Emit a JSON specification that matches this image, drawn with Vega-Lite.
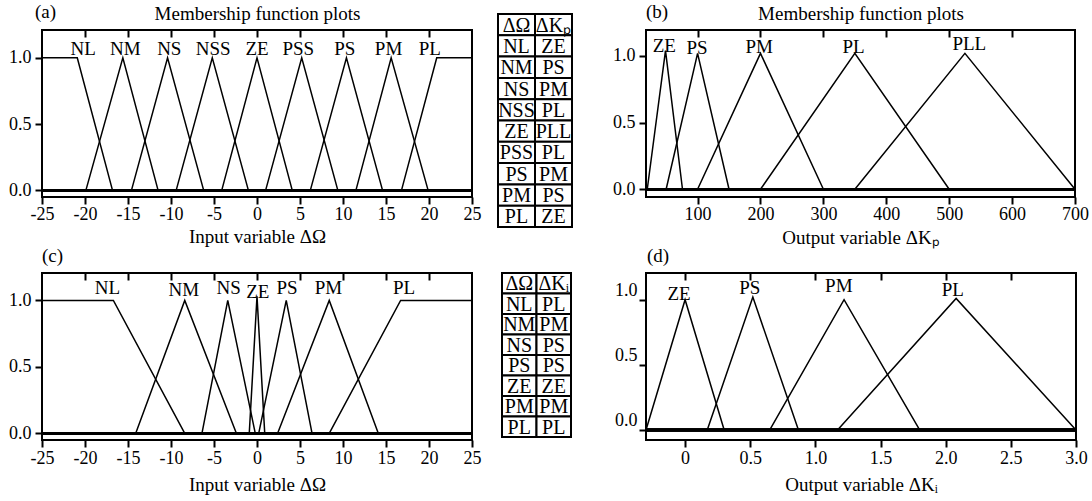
{
  "$schema": "https://vega.github.io/schema/vega-lite/v6.json",
  "padding": {"left": 7, "top": 2, "right": 0, "bottom": 0},
  "background": "white",
  "config": {
    "font": "Liberation Serif",
    "view": {"stroke": "black", "strokeWidth": 2},
    "axis": {
      "labelFont": "Liberation Serif", "labelFontSize": 18, "labelColor": "black",
      "titleFont": "Liberation Serif", "titleFontSize": 19, "titleFontWeight": "normal", "titleColor": "black",
      "tickColor": "black", "tickWidth": 2, "tickSize": 7, "grid": false, "domain": false,
      "labelPadding": 2, "labelFlush": false, "labelOverlap": false
    },
    "axisY": {"labelPadding": 4},
    "title": {"font": "Liberation Serif", "fontSize": 19, "fontWeight": "normal", "color": "black", "anchor": "start", "frame": "group"},
    "text": {"font": "Liberation Serif", "color": "black"},
    "line": {"color": "black", "strokeWidth": 1.5},
    "rule": {"color": "black"}
  },
  "datasets": {
    "mfA": [
      {"mf": "NL", "x": -25, "y": 1}, {"mf": "NL", "x": -20.9, "y": 1}, {"mf": "NL", "x": -16.8, "y": 0},
      {"mf": "NM", "x": -19.9, "y": 0}, {"mf": "NM", "x": -15.6, "y": 1}, {"mf": "NM", "x": -11.5, "y": 0},
      {"mf": "NS", "x": -14.6, "y": 0}, {"mf": "NS", "x": -10.4, "y": 1}, {"mf": "NS", "x": -6.2, "y": 0},
      {"mf": "NSS", "x": -9.4, "y": 0}, {"mf": "NSS", "x": -5.2, "y": 1}, {"mf": "NSS", "x": -1.0, "y": 0},
      {"mf": "ZE", "x": -4.1, "y": 0}, {"mf": "ZE", "x": 0, "y": 1}, {"mf": "ZE", "x": 4.1, "y": 0},
      {"mf": "PSS", "x": 1.0, "y": 0}, {"mf": "PSS", "x": 5.2, "y": 1}, {"mf": "PSS", "x": 9.4, "y": 0},
      {"mf": "PS", "x": 6.2, "y": 0}, {"mf": "PS", "x": 10.4, "y": 1}, {"mf": "PS", "x": 14.6, "y": 0},
      {"mf": "PM", "x": 11.5, "y": 0}, {"mf": "PM", "x": 15.6, "y": 1}, {"mf": "PM", "x": 19.9, "y": 0},
      {"mf": "PL", "x": 16.8, "y": 0}, {"mf": "PL", "x": 20.9, "y": 1}, {"mf": "PL", "x": 25, "y": 1}
    ],
    "labA": [
      {"name": "NL", "x": -20.2, "y": 1.025}, {"name": "NM", "x": -15.3, "y": 1.025},
      {"name": "NS", "x": -10.2, "y": 1.025}, {"name": "NSS", "x": -5.1, "y": 1.025},
      {"name": "ZE", "x": 0, "y": 1.025}, {"name": "PSS", "x": 4.8, "y": 1.025},
      {"name": "PS", "x": 10.2, "y": 1.025}, {"name": "PM", "x": 15.3, "y": 1.025},
      {"name": "PL", "x": 20.1, "y": 1.025}
    ],
    "mfB": [
      {"mf": "ZE", "x": 20, "y": 0}, {"mf": "ZE", "x": 49, "y": 1.04}, {"mf": "ZE", "x": 76, "y": 0},
      {"mf": "PS", "x": 50, "y": 0}, {"mf": "PS", "x": 100, "y": 1.02}, {"mf": "PS", "x": 150, "y": 0},
      {"mf": "PM", "x": 100, "y": 0}, {"mf": "PM", "x": 200, "y": 1.02}, {"mf": "PM", "x": 300, "y": 0},
      {"mf": "PL", "x": 200, "y": 0}, {"mf": "PL", "x": 350, "y": 1.02}, {"mf": "PL", "x": 500, "y": 0},
      {"mf": "PLL", "x": 350, "y": 0}, {"mf": "PLL", "x": 525, "y": 1.02}, {"mf": "PLL", "x": 700, "y": 0}
    ],
    "labB": [
      {"name": "ZE", "x": 47, "y": 1.03}, {"name": "PS", "x": 99, "y": 1.015},
      {"name": "PM", "x": 198, "y": 1.02}, {"name": "PL", "x": 348, "y": 1.025},
      {"name": "PLL", "x": 532, "y": 1.045}
    ],
    "mfC": [
      {"mf": "NL", "x": -25, "y": 1}, {"mf": "NL", "x": -16.7, "y": 1}, {"mf": "NL", "x": -8.4, "y": 0},
      {"mf": "NM", "x": -14.1, "y": 0}, {"mf": "NM", "x": -8.4, "y": 1}, {"mf": "NM", "x": -2.4, "y": 0},
      {"mf": "NS", "x": -6.4, "y": 0}, {"mf": "NS", "x": -3.4, "y": 1}, {"mf": "NS", "x": -0.2, "y": 0},
      {"mf": "ZE", "x": -0.9, "y": 0}, {"mf": "ZE", "x": 0, "y": 1.03}, {"mf": "ZE", "x": 0.9, "y": 0},
      {"mf": "PS", "x": 0.2, "y": 0}, {"mf": "PS", "x": 3.4, "y": 1}, {"mf": "PS", "x": 6.4, "y": 0},
      {"mf": "PM", "x": 2.4, "y": 0}, {"mf": "PM", "x": 8.4, "y": 1}, {"mf": "PM", "x": 14.1, "y": 0},
      {"mf": "PL", "x": 8.4, "y": 0}, {"mf": "PL", "x": 16.7, "y": 1}, {"mf": "PL", "x": 25, "y": 1}
    ],
    "labC": [
      {"name": "NL", "x": -17.4, "y": 1.045}, {"name": "NM", "x": -8.5, "y": 1.035},
      {"name": "NS", "x": -3.3, "y": 1.05}, {"name": "ZE", "x": 0.1, "y": 1.02},
      {"name": "PS", "x": 3.5, "y": 1.045}, {"name": "PM", "x": 8.3, "y": 1.045},
      {"name": "PL", "x": 17.1, "y": 1.05}
    ],
    "mfD": [
      {"mf": "ZE", "x": -0.3, "y": 0}, {"mf": "ZE", "x": 0, "y": 1}, {"mf": "ZE", "x": 0.3, "y": 0},
      {"mf": "PS", "x": 0.17, "y": 0}, {"mf": "PS", "x": 0.52, "y": 1.02}, {"mf": "PS", "x": 0.87, "y": 0},
      {"mf": "PM", "x": 0.65, "y": 0}, {"mf": "PM", "x": 1.22, "y": 1}, {"mf": "PM", "x": 1.8, "y": 0},
      {"mf": "PL", "x": 1.17, "y": 0}, {"mf": "PL", "x": 2.08, "y": 1.01}, {"mf": "PL", "x": 3.0, "y": 0}
    ],
    "labD": [
      {"name": "ZE", "x": -0.046, "y": 1.0}, {"name": "PS", "x": 0.496, "y": 1.046},
      {"name": "PM", "x": 1.18, "y": 1.06}, {"name": "PL", "x": 2.055, "y": 1.03}
    ],
    "tab1": [
      {"row": 0, "col": 0, "text": "ΔΩ"}, {"row": 0, "col": 1, "text": "ΔKₚ"},
      {"row": 1, "col": 0, "text": "NL"}, {"row": 1, "col": 1, "text": "ZE"},
      {"row": 2, "col": 0, "text": "NM"}, {"row": 2, "col": 1, "text": "PS"},
      {"row": 3, "col": 0, "text": "NS"}, {"row": 3, "col": 1, "text": "PM"},
      {"row": 4, "col": 0, "text": "NSS"}, {"row": 4, "col": 1, "text": "PL"},
      {"row": 5, "col": 0, "text": "ZE"}, {"row": 5, "col": 1, "text": "PLL"},
      {"row": 6, "col": 0, "text": "PSS"}, {"row": 6, "col": 1, "text": "PL"},
      {"row": 7, "col": 0, "text": "PS"}, {"row": 7, "col": 1, "text": "PM"},
      {"row": 8, "col": 0, "text": "PM"}, {"row": 8, "col": 1, "text": "PS"},
      {"row": 9, "col": 0, "text": "PL"}, {"row": 9, "col": 1, "text": "ZE"}
    ],
    "tab2": [
      {"row": 0, "col": 0, "text": "ΔΩ"}, {"row": 0, "col": 1, "text": "ΔKᵢ"},
      {"row": 1, "col": 0, "text": "NL"}, {"row": 1, "col": 1, "text": "PL"},
      {"row": 2, "col": 0, "text": "NM"}, {"row": 2, "col": 1, "text": "PM"},
      {"row": 3, "col": 0, "text": "NS"}, {"row": 3, "col": 1, "text": "PS"},
      {"row": 4, "col": 0, "text": "PS"}, {"row": 4, "col": 1, "text": "PS"},
      {"row": 5, "col": 0, "text": "ZE"}, {"row": 5, "col": 1, "text": "ZE"},
      {"row": 6, "col": 0, "text": "PM"}, {"row": 6, "col": 1, "text": "PM"},
      {"row": 7, "col": 0, "text": "PL"}, {"row": 7, "col": 1, "text": "PL"}
    ]
  },
  "columns": 3,
  "bounds": "flush",
  "align": "none",
  "spacing": {"row": 76, "column": 0},
  "concat": [
    {
      "width": 430, "height": 167,
      "title": {"text": "(a)", "offset": -18, "dx": -7},
      "resolve": {"axis": {"x": "independent", "y": "independent"}},
      "layer": [
        {
          "data": {"name": "mfA"},
          "mark": {"type": "rule", "strokeWidth": 2.5},
          "encoding": {"y": {"datum": 0, "type": "quantitative", "scale": {"domain": [-0.05, 1.21], "nice": false, "zero": false}, "axis": null}}
        },
        {
          "data": {"name": "mfA"},
          "mark": {"type": "line"},
          "encoding": {
            "x": {"field": "x", "type": "quantitative", "scale": {"domain": [-25, 25], "nice": false, "zero": false},
                  "axis": {"values": [-25, -20, -15, -10, -5, 0, 5, 10, 15, 20, 25], "labelExpr": "(datum.value < 0 ? '-' : '') + abs(datum.value)", "labelPadding": 1, "title": "Input variable ΔΩ", "titlePadding": 4}},
            "y": {"field": "y", "type": "quantitative", "scale": {"domain": [-0.05, 1.21], "nice": false, "zero": false},
                  "axis": {"values": [0, 0.5, 1], "format": ".1f", "title": null}},
            "detail": {"field": "mf"}
          }
        },
        {
          "data": {"name": "labA"},
          "mark": {"type": "text", "fontSize": 19, "baseline": "alphabetic", "align": "center"},
          "encoding": {
            "x": {"field": "x", "type": "quantitative", "scale": {"domain": [-25, 25], "nice": false, "zero": false},
                  "axis": {"orient": "top", "values": [-20, -15, -10, -5, 0, 5, 10, 15, 20], "labels": false, "tickSize": -7, "title": "Membership function plots", "titlePadding": 6}},
            "y": {"field": "y", "type": "quantitative", "axis": null},
            "text": {"field": "name"}
          }
        }
      ]
    },
    {
      "width": 171, "height": 167,
      "view": {"stroke": null},
      "data": {"name": "tab1"},
      "encoding": {
        "x": {"field": "col", "type": "ordinal", "scale": {"range": [26, 100], "paddingInner": 0, "paddingOuter": 0}, "axis": null},
        "y": {"field": "row", "type": "ordinal", "scale": {"range": [-16, 197], "paddingInner": 0, "paddingOuter": 0}, "axis": null}
      },
      "layer": [
        {"mark": {"type": "rect", "fill": "white", "stroke": "black", "strokeWidth": 2}},
        {"mark": {"type": "text", "fontSize": 20, "baseline": "middle", "align": "center", "dy": 1}, "encoding": {"text": {"field": "text"}}}
      ]
    },
    {
      "width": 429, "height": 167,
      "title": {"text": "(b)", "offset": -18, "dx": 0},
      "resolve": {"axis": {"x": "independent", "y": "independent"}},
      "layer": [
        {
          "data": {"name": "mfB"},
          "mark": {"type": "rule", "strokeWidth": 2.5},
          "encoding": {"y": {"datum": 0, "type": "quantitative", "scale": {"domain": [-0.058, 1.195], "nice": false, "zero": false}, "axis": null}}
        },
        {
          "data": {"name": "mfB"},
          "mark": {"type": "line"},
          "encoding": {
            "x": {"field": "x", "type": "quantitative", "scale": {"domain": [18, 700], "nice": false, "zero": false},
                  "axis": {"values": [100, 200, 300, 400, 500, 600, 700], "labelPadding": 1, "title": "Output variable ΔKₚ", "titlePadding": 5}},
            "y": {"field": "y", "type": "quantitative", "scale": {"domain": [-0.058, 1.195], "nice": false, "zero": false},
                  "axis": {"values": [0, 0.5, 1], "format": ".1f", "title": null}},
            "detail": {"field": "mf"}
          }
        },
        {
          "data": {"name": "labB"},
          "mark": {"type": "text", "fontSize": 19, "baseline": "alphabetic", "align": "center"},
          "encoding": {
            "x": {"field": "x", "type": "quantitative", "scale": {"domain": [18, 700], "nice": false, "zero": false},
                  "axis": {"orient": "top", "values": [100, 200, 300, 400, 500, 600], "labels": false, "tickSize": -7, "title": "Membership function plots", "titlePadding": 6}},
            "y": {"field": "y", "type": "quantitative", "axis": null},
            "text": {"field": "name"}
          }
        }
      ]
    },
    {
      "width": 430, "height": 167,
      "title": {"text": "(c)", "offset": 6, "dx": 0},
      "resolve": {"axis": {"x": "independent", "y": "independent"}},
      "layer": [
        {
          "data": {"name": "mfC"},
          "mark": {"type": "rule", "strokeWidth": 2.5},
          "encoding": {"y": {"datum": 0, "type": "quantitative", "scale": {"domain": [-0.05, 1.206], "nice": false, "zero": false}, "axis": null}}
        },
        {
          "data": {"name": "mfC"},
          "mark": {"type": "line"},
          "encoding": {
            "x": {"field": "x", "type": "quantitative", "scale": {"domain": [-25, 25], "nice": false, "zero": false},
                  "axis": {"values": [-25, -20, -15, -10, -5, 0, 5, 10, 15, 20, 25], "labelExpr": "(datum.value < 0 ? '-' : '') + abs(datum.value)", "labelPadding": 2, "title": "Input variable ΔΩ", "titlePadding": 8}},
            "y": {"field": "y", "type": "quantitative", "scale": {"domain": [-0.05, 1.206], "nice": false, "zero": false},
                  "axis": {"values": [0, 0.5, 1], "format": ".1f", "title": null}},
            "detail": {"field": "mf"}
          }
        },
        {
          "data": {"name": "labC"},
          "mark": {"type": "text", "fontSize": 19, "baseline": "alphabetic", "align": "center"},
          "encoding": {
            "x": {"field": "x", "type": "quantitative", "scale": {"domain": [-25, 25], "nice": false, "zero": false},
                  "axis": {"orient": "top", "values": [-20, -15, -10, -5, 0, 5, 10, 15, 20], "labels": false, "tickSize": -7, "title": null}},
            "y": {"field": "y", "type": "quantitative", "axis": null},
            "text": {"field": "name"}
          }
        }
      ]
    },
    {
      "width": 174, "height": 167,
      "view": {"stroke": null},
      "data": {"name": "tab2"},
      "encoding": {
        "x": {"field": "col", "type": "ordinal", "scale": {"range": [30, 99], "paddingInner": 0, "paddingOuter": 0}, "axis": null},
        "y": {"field": "row", "type": "ordinal", "scale": {"range": [0, 164], "paddingInner": 0, "paddingOuter": 0}, "axis": null}
      },
      "layer": [
        {"mark": {"type": "rect", "fill": "white", "stroke": "black", "strokeWidth": 2}},
        {"mark": {"type": "text", "fontSize": 20, "baseline": "middle", "align": "center", "dy": 1}, "encoding": {"text": {"field": "text"}}}
      ]
    },
    {
      "width": 430, "height": 167,
      "title": {"text": "(d)", "offset": 6, "dx": 1},
      "resolve": {"axis": {"x": "independent", "y": "independent"}},
      "layer": [
        {
          "data": {"name": "mfD"},
          "mark": {"type": "rule", "strokeWidth": 2.5},
          "encoding": {"y": {"datum": 0, "type": "quantitative", "scale": {"domain": [-0.077, 1.205], "nice": false, "zero": false}, "axis": null}}
        },
        {
          "data": {"name": "mfD"},
          "mark": {"type": "line"},
          "encoding": {
            "x": {"field": "x", "type": "quantitative", "scale": {"domain": [-0.3, 3], "nice": false, "zero": false},
                  "axis": {"values": [0, 0.5, 1, 1.5, 2, 2.5, 3], "labelExpr": "datum.value == 0 ? '0' : format(datum.value, '.1f')", "labelPadding": 2, "title": "Output variable ΔKᵢ", "titlePadding": 8}},
            "y": {"field": "y", "type": "quantitative", "scale": {"domain": [-0.077, 1.205], "nice": false, "zero": false},
                  "axis": {"values": [0, 0.5, 1], "format": ".1f", "labelBaseline": "bottom", "labelPadding": 2, "title": null}},
            "detail": {"field": "mf"}
          }
        },
        {
          "data": {"name": "labD"},
          "mark": {"type": "text", "fontSize": 19, "baseline": "alphabetic", "align": "center"},
          "encoding": {
            "x": {"field": "x", "type": "quantitative", "scale": {"domain": [-0.3, 3], "nice": false, "zero": false},
                  "axis": {"orient": "top", "values": [0, 0.5, 1, 1.5, 2, 2.5], "labels": false, "tickSize": -7, "title": null}},
            "y": {"field": "y", "type": "quantitative", "axis": null},
            "text": {"field": "name"}
          }
        }
      ]
    }
  ]
}
